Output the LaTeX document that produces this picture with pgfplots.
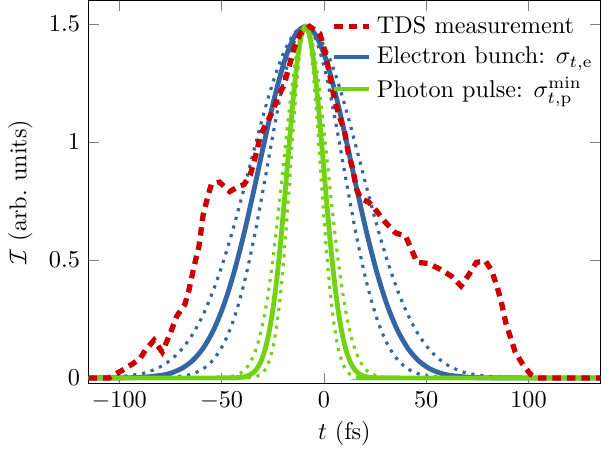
\documentclass[border=0pt]{standalone}
\usepackage{pgfplots}
\pgfplotsset{compat=1.18}
\definecolor{tred}{RGB}{204,0,0}
\definecolor{tblue}{RGB}{52,101,164}
\definecolor{tgreen}{RGB}{115,210,22}
\begin{document}
\begin{tikzpicture}
\begin{axis}[
  scale only axis,
  width=211pt, height=158pt,
  xmin=-115, xmax=135,
  ymin=-0.024, ymax=1.6,
  xtick={-100,-50,0,50,100},
  ytick={0,0.5,1,1.5},
  xlabel={$t$ (fs)},
  ylabel={$\mathcal{I}$ (arb.\ units)},
  xlabel style={yshift=2pt},
  tick style={black!50},
  legend style={draw=none, fill=none, at={(1.01,0.985)}, anchor=north east},
  legend image post style={xscale=0.85},
  legend cell align=left,
]
\addlegendimage{tred, line width=2.2pt, dash pattern=on 3.5pt off 2.5pt}
\addlegendentry{TDS measurement}
\addlegendimage{tblue, line width=2pt}
\addlegendentry{Electron bunch: $\sigma_{t,\mathrm{e}}$}
\addlegendimage{tgreen, line width=2pt}
\addlegendentry{Photon pulse: $\sigma_{t,\mathrm{p}}^{\min}$}

% blue dotted, sigma ~18.5 fs
\addplot[forget plot, smooth, tblue, line width=1.3pt, dash pattern=on 1.3pt off 2.4pt] coordinates {
(-115,0) (-89,0.0001) (-79,0.0012) (-69,0.0077) (-64,0.0179) (-59,0.0386) (-54,0.0773) (-49,0.1439) (-44,0.2489) (-39,0.4001) (-34,0.5979) (-29,0.8306) (-24,1.0726) (-19,1.2875) (-14,1.4366) (-9,1.49) (-4,1.4366) (1,1.2875) (6,1.0726) (11,0.8306) (16,0.5979) (21,0.4001) (26,0.2489) (31,0.1439) (36,0.0773) (41,0.0386) (46,0.0179) (51,0.0077) (61,0.0012) (71,0.0001) (135,0)
};
% blue dotted, sigma ~27 fs
\addplot[forget plot, smooth, tblue, line width=1.3pt, dash pattern=on 1.3pt off 2.4pt] coordinates {
(-115,0.0007) (-109,0.0016) (-99,0.0058) (-89,0.0185) (-84,0.0315) (-79,0.0517) (-74,0.0822) (-69,0.1261) (-64,0.1871) (-59,0.2682) (-54,0.3715) (-49,0.4973) (-44,0.6431) (-39,0.8037) (-34,0.9706) (-29,1.1325) (-24,1.2769) (-19,1.3912) (-14,1.4647) (-9,1.49) (-4,1.4647) (1,1.3912) (6,1.2769) (11,1.1325) (16,0.9706) (21,0.8037) (26,0.6431) (31,0.4973) (36,0.3715) (41,0.2682) (46,0.1871) (51,0.1261) (56,0.0822) (61,0.0517) (66,0.0315) (71,0.0185) (81,0.0058) (91,0.0016) (106,0.0002) (135,0)
};
% blue solid, sigma ~22.5 fs
\addplot[forget plot, smooth, tblue, line width=2pt] coordinates {
(-115,0) (-99,0.0005) (-89,0.0027) (-79,0.0118) (-74,0.0230) (-69,0.0426) (-64,0.0751) (-59,0.1261) (-54,0.2017) (-49,0.3068) (-44,0.4444) (-39,0.6126) (-34,0.8037) (-29,1.0038) (-24,1.1931) (-19,1.3499) (-14,1.4537) (-9,1.49) (-4,1.4537) (1,1.3499) (6,1.1931) (11,1.0038) (16,0.8037) (21,0.6126) (26,0.4444) (31,0.3068) (36,0.2017) (41,0.1261) (46,0.0751) (51,0.0426) (56,0.0230) (61,0.0118) (71,0.0027) (81,0.0005) (91,0.0001) (135,0)
};
% green dotted, sigma ~7.2 fs
\addplot[forget plot, smooth, tgreen, line width=1.3pt, dash pattern=on 1.3pt off 2.4pt] coordinates {
(-115,0) (-43,0) (-37,0.0008) (-33,0.0058) (-31,0.0140) (-29,0.0315) (-27,0.0655) (-25,0.1261) (-23,0.2250) (-21,0.3715) (-19,0.5679) (-17,0.8037) (-15,1.0529) (-13,1.2769) (-11,1.4336) (-9,1.49) (-7,1.4336) (-5,1.2769) (-3,1.0529) (-1,0.8037) (1,0.5679) (3,0.3715) (5,0.2250) (7,0.1261) (9,0.0655) (11,0.0315) (13,0.0140) (15,0.0058) (19,0.0008) (25,0) (135,0)
};
% green dotted, sigma ~10.8 fs
\addplot[forget plot, smooth, tgreen, line width=1.3pt, dash pattern=on 1.3pt off 2.4pt] coordinates {
(-115,0) (-55,0.0002) (-49,0.0016) (-45,0.0058) (-41,0.0185) (-39,0.0315) (-37,0.0517) (-35,0.0822) (-33,0.1261) (-31,0.1871) (-29,0.2682) (-27,0.3715) (-25,0.4973) (-23,0.6431) (-21,0.8037) (-19,0.9706) (-17,1.1325) (-15,1.2769) (-13,1.3912) (-11,1.4647) (-9,1.49) (-7,1.4647) (-5,1.3912) (-3,1.2769) (-1,1.1325) (1,0.9706) (3,0.8037) (5,0.6431) (7,0.4973) (9,0.3715) (11,0.2682) (13,0.1871) (15,0.1261) (17,0.0822) (19,0.0517) (21,0.0315) (23,0.0185) (27,0.0058) (31,0.0016) (37,0.0002) (135,0)
};
% green solid, sigma ~8.8 fs
\addplot[forget plot, smooth, tgreen, line width=2pt] coordinates {
(-115,0) (-49,0.0001) (-43,0.0009) (-39,0.0045) (-37,0.0094) (-35,0.0190) (-33,0.0361) (-31,0.0655) (-29,0.1126) (-27,0.1839) (-25,0.2853) (-23,0.4203) (-21,0.5880) (-19,0.7812) (-17,0.9857) (-15,1.1810) (-13,1.3438) (-11,1.4520) (-9,1.49) (-7,1.4520) (-5,1.3438) (-3,1.1810) (-1,0.9857) (1,0.7812) (3,0.5880) (5,0.4203) (7,0.2853) (9,0.1839) (11,0.1126) (13,0.0655) (15,0.0361) (17,0.0190) (19,0.0094) (21,0.0045) (25,0.0009) (31,0.0001) (135,0)
};
% TDS measurement
\addplot[forget plot, tred, line width=2.2pt, dash pattern=on 3.5pt off 2.5pt] coordinates {
(-115,0) (-105,0) (-97,0.04) (-90,0.08) (-87,0.12) (-83,0.16) (-79,0.11) (-75,0.19) (-72,0.26) (-68,0.31) (-66,0.37) (-63.5,0.47) (-61,0.56) (-59,0.69) (-57,0.76) (-55,0.82) (-51,0.83) (-46,0.79) (-42,0.81) (-39,0.82) (-36,0.86) (-34,0.92) (-32.5,0.97) (-31,1.03) (-28,1.08) (-25,1.13) (-22.5,1.19) (-19.5,1.24) (-18,1.29) (-16,1.35) (-14.5,1.40) (-11.5,1.46) (-7,1.49) (-2,1.46) (0,1.40) (1.5,1.34) (3,1.28) (4,1.23) (5.5,1.17) (7.5,1.11) (10,1.05) (12,0.95) (14,0.89) (16,0.80) (18,0.76) (22,0.745) (26,0.705) (30,0.66) (35,0.615) (40,0.60) (43,0.54) (45.5,0.49) (51,0.485) (57,0.46) (62.5,0.43) (67,0.39) (71,0.44) (74.5,0.49) (79,0.495) (82,0.455) (84.5,0.39) (86.5,0.33) (89,0.23) (93.5,0.11) (97,0.06) (101,0.015) (104,0) (135,0)
};
\end{axis}
\path (current axis.south east) -- ++(5.3pt,-26pt);
\end{tikzpicture}
\end{document}
